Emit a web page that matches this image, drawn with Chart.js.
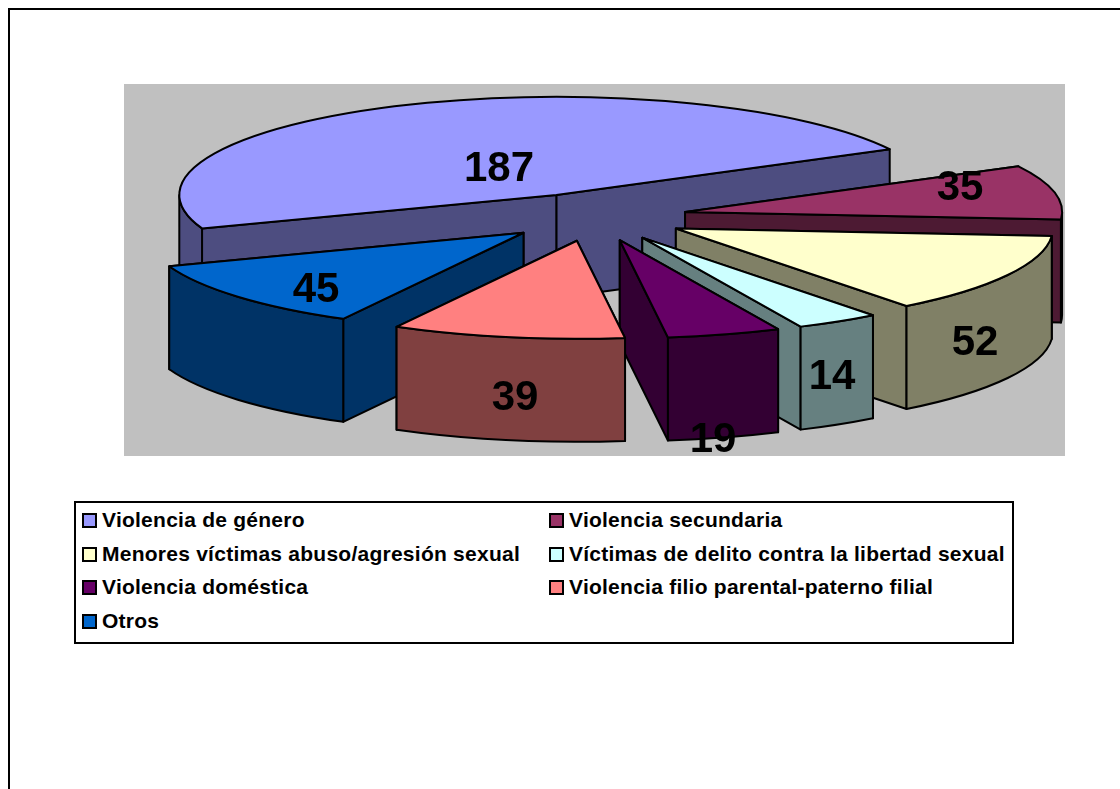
<!DOCTYPE html>
<html>
<head>
<meta charset="UTF-8">
<title>Violencia</title>
<script src="https://cdn.jsdelivr.net/npm/chart.js@4"></script>
<style>
	html, body { margin: 0; padding: 0; background: #fff; overflow: hidden; }
	#frame { position: absolute; left: 8px; top: 8px; width: 1200px; height: 900px; border: 2px solid #000; box-sizing: border-box; }
	#container { position: absolute; left: 0; top: 0; width: 1120px; height: 789px; }
	#legend { position: absolute; left: 74px; top: 501px; width: 940px; height: 143px; border: 2px solid #000; box-sizing: border-box; background: #fff;
		font: bold 21px "Liberation Sans", Arial, sans-serif; letter-spacing: 0.25px; color: #000; }
	.item { position: absolute; white-space: nowrap; line-height: 24px; }
	.swatch { position: absolute; left: 0; top: 5px; width: 15px; height: 15px; border: 2px solid #000; box-sizing: border-box; }
	.item span.txt { margin-left: 20px; }
</style>
</head>
<body>
<div id="frame"></div>
<div id="container"><canvas id="piecanvas" width="1120" height="789"></canvas></div>
<div id="legend"></div>
<script>

var categories = ['Violencia de género', 'Violencia secundaria', 'Menores víctimas abuso/agresión sexual',
	'Víctimas de delito contra la libertad sexual', 'Violencia doméstica', 'Violencia filio parental-paterno filial', 'Otros'];
var values = [187, 35, 52, 14, 19, 39, 45];
var topColors = ['#9999FF', '#993366', '#FFFFCC', '#CCFFFF', '#660066', '#FF8080', '#0066CC'];
var wallColors = ['#4D4D80', '#4D1A33', '#808066', '#668080', '#330033', '#804040', '#003366'];

// where the data labels sit on the picture
var labelX = [499, 960, 975, 832, 713, 515, 316];
var labelY = [169, 188, 343, 377, 440, 398, 290];

var squash = 0.26;   // flattening of the pie
var depth = 103;     // wall height
var explode = 93;    // how far every slice is pulled out
var centerY = 217;

// 3d look: squashed tops, walls under them, painted back to front
var pie3d = {
	id: 'pie3d',
	beforeDraw: function(chart) {
		var ctx = chart.ctx;
		ctx.save();
		ctx.fillStyle = '#C0C0C0';
		ctx.fillRect(124, 84, 941, 372);
		ctx.restore();
	},
	beforeDatasetsDraw: function(chart) {
		var ctx = chart.ctx;
		var arcs = chart.getDatasetMeta(0).data;
		var order = arcs.map(function(a, i) { return i; });
		order.sort(function(p, q) { return midSin(arcs[p]) - midSin(arcs[q]); });

		order.forEach(function(i) {
			drawSlice(ctx, arcs[i], wallColors[i]);
		});

		ctx.save();
		ctx.font = 'bold 42px "Liberation Sans", Arial, sans-serif';
		ctx.fillStyle = '#000';
		ctx.textAlign = 'center';
		ctx.textBaseline = 'middle';
		values.forEach(function(v, i) {
			ctx.fillText(String(v), labelX[i], labelY[i]);
		});
		ctx.restore();
		return false;
	}
};

function midSin(arc) {
	return Math.sin((arc.startAngle + arc.endAngle) / 2);
}

function drawSlice(ctx, arc, wall) {
	var mid = (arc.startAngle + arc.endAngle) / 2;
	var ox = arc.x + Math.cos(mid) * explode;
	var oy = centerY + Math.sin(mid) * explode * squash;
	var r = arc.outerRadius;
	var ry = r * squash;
	var a = arc.startAngle, b = arc.endAngle;

	function px(t) { return ox + Math.cos(t) * r; }
	function py(t) { return oy + Math.sin(t) * ry; }

	ctx.save();
	ctx.lineWidth = 2;
	ctx.lineJoin = 'round';
	ctx.strokeStyle = '#000';
	ctx.fillStyle = wall;

	// the two cut faces, the one further back first
	var faces = Math.sin(a) < Math.sin(b) ? [a, b] : [b, a];
	faces.forEach(function(t) {
		ctx.beginPath();
		ctx.moveTo(ox, oy);
		ctx.lineTo(px(t), py(t));
		ctx.lineTo(px(t), py(t) + depth);
		ctx.lineTo(ox, oy + depth);
		ctx.closePath();
		ctx.fill();
		ctx.stroke();
	});

	// rounded outer wall, only the part turned to the viewer
	var k = Math.floor(a / (2 * Math.PI));
	var visible = [[2 * Math.PI * k, 2 * Math.PI * k + Math.PI], [2 * Math.PI * (k + 1), 2 * Math.PI * (k + 1) + Math.PI]];
	visible.forEach(function(v) {
		var w0 = Math.max(a, v[0]);
		var w1 = Math.min(b, v[1]);
		if (w1 <= w0) return;
		ctx.beginPath();
		ctx.ellipse(ox, oy, r, ry, 0, w0, w1);
		ctx.lineTo(px(w1), py(w1) + depth);
		ctx.ellipse(ox, oy + depth, r, ry, 0, w1, w0, true);
		ctx.closePath();
		ctx.fill();
		ctx.stroke();
	});
	ctx.restore();

	// the top face is the library's own arc element, squashed and moved out
	ctx.save();
	ctx.translate(ox - arc.x, oy);
	ctx.scale(1, squash);
	ctx.translate(0, -arc.y);
	arc.draw(ctx);
	ctx.restore();

	ctx.save();
	ctx.lineWidth = 2;
	ctx.lineJoin = 'round';
	ctx.strokeStyle = '#000';
	ctx.beginPath();
	ctx.moveTo(ox, oy);
	ctx.ellipse(ox, oy, r, ry, 0, a, b);
	ctx.closePath();
	ctx.stroke();
	ctx.restore();
}

window.onload = function() {
	var ctx = document.getElementById('piecanvas').getContext('2d');
	window.myPie = new Chart(ctx, {
		type: 'pie',
		data: {
			labels: categories,
			datasets: [{
				data: values,
				backgroundColor: topColors,
				borderWidth: 0
			}]
		},
		options: {
			responsive: false,
			animation: false,
			radius: 377,
			rotation: 250,
			layout: { padding: { left: 68, bottom: 355 } },
			plugins: {
				legend: { display: false },
				tooltip: { enabled: false }
			}
		},
		plugins: [pie3d]
	});

	// legend box, two columns
	var legend = document.getElementById('legend');
	categories.forEach(function(name, i) {
		var item = document.createElement('div');
		item.className = 'item';
		item.style.left = (i % 2 ? 473 : 6) + 'px';
		item.style.top = (5 + Math.floor(i / 2) * 33.7) + 'px';
		var sw = document.createElement('div');
		sw.className = 'swatch';
		sw.style.background = topColors[i];
		var txt = document.createElement('span');
		txt.className = 'txt';
		txt.textContent = name;
		item.appendChild(sw);
		item.appendChild(txt);
		legend.appendChild(item);
	});
};

</script>
</body>
</html>
